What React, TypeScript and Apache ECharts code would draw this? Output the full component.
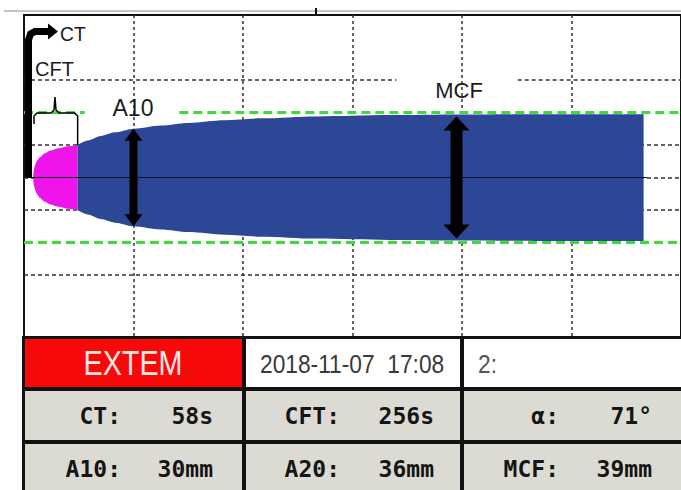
import React, { useEffect, useRef } from "react";
import * as echarts from "echarts";

// ---- curve data (time in s, half amplitude in mm) ----
const pinkTimes = [50, 55, 62, 72, 88, 112, 145, 190, 240, 294];
const pinkAmp = [0, 2.6, 4.0, 5.2, 6.3, 7.4, 8.3, 9.0, 9.6, 10.0];
const blueTimes = [294, 350, 420, 500, 600, 750, 900, 1100, 1300, 1600, 2000, 2400, 2800, 3395];
const blueAmp = [10.0, 11.4, 12.8, 13.9, 15.0, 16.0, 16.8, 17.6, 18.2, 18.8, 19.2, 19.4, 19.5, 19.5];
const baselineEnd = 3415;
const a10Time = 600;
const a10Amp = 15;
const mcfTime = 2370;
const mcfAmp = 18.8;
const refAmp = 20;
const xMax = 3600;
const xInterval = 600;
const yMin = -50;
const yMax = 50;
const yInterval = 10;

// ---- table texts ----
const testName = "EXTEM";
const testDate = "2018-11-07  17:08";
const channel = "2:";
const row1Labels = ["CT:", "CFT:", "α:"];
const row1Values = ["58s", "256s", "71°"];
const row2Labels = ["A10:", "A20:", "MCF:"];
const row2Values = ["30mm", "36mm", "39mm"];

const PINK = "#ee14ea";
const BLUE = "#2d4797";
const GREEN = "#3edc36";
const GRID = "#333333";
const CELL_GRAY = "#dcdbd3";
const RED = "#f80909";

const SANS = '"Liberation Sans", Arial, sans-serif';
const MONO = '"DejaVu Sans Mono", "Liberation Mono", monospace';

export default function App() {
  const ref = useRef<HTMLDivElement>(null);
  useEffect(() => {
    if (!ref.current) return;
    const chart = echarts.init(ref.current, undefined, { renderer: "svg" });
    const upper = (ts: number[], as: number[]) => ts.map((t, i) => [t, as[i]]);
    const lower = (ts: number[], as: number[]) => ts.map((t, i) => [t, -as[i]]);
    const areaSeries = (data: number[][], color: string) => ({
      type: "line",
      data,
      symbol: "none",
      smooth: 0.3,
      smoothMonotone: "x",
      lineStyle: { width: 0, color },
      itemStyle: { color },
      areaStyle: { color, opacity: 1, origin: 0 },
      silent: true,
      z: 2,
    });
    const xColors = ["transparent", GRID, GRID, GRID, GRID, GRID, "transparent"];
    const yColors = [
      "transparent", "transparent", GRID, "transparent", GRID, GRID, GRID,
      "transparent", "transparent", "transparent", "transparent",
    ];
    chart.setOption({
      animation: false,
      grid: {
        left: 24, top: 15, width: 660, height: 325,
        show: true, borderColor: "#111", borderWidth: 2, backgroundColor: "#fff",
      },
      xAxis: {
        type: "value", min: 0, max: xMax, interval: xInterval,
        axisLine: { show: false }, axisTick: { show: false }, axisLabel: { show: false },
        splitLine: { show: true, lineStyle: { color: xColors, width: 1.5, type: [3, 3] } },
      },
      yAxis: {
        type: "value", min: yMin, max: yMax, interval: yInterval,
        axisLine: { show: false }, axisTick: { show: false }, axisLabel: { show: false },
        splitLine: { show: true, lineStyle: { color: yColors, width: 1.5, type: [4, 3] } },
      },
      series: [
        areaSeries(upper(pinkTimes, pinkAmp), PINK),
        areaSeries(lower(pinkTimes, pinkAmp), PINK),
        areaSeries(upper(blueTimes, blueAmp), BLUE),
        areaSeries(lower(blueTimes, blueAmp), BLUE),
        {
          type: "line",
          data: [[0, 0], [baselineEnd, 0]],
          symbol: "none",
          lineStyle: { color: "#0d1020", width: 1 },
          silent: true,
          z: 4,
          markLine: {
            silent: true,
            symbol: "none",
            label: { show: false },
            lineStyle: { color: GREEN, width: 3, type: [9, 5] },
            data: [
              [{ coord: [0, refAmp] }, { coord: [333, refAmp] }],
              [{ coord: [851, refAmp] }, { coord: [xMax, refAmp] }],
              [{ coord: [0, -refAmp] }, { coord: [xMax, -refAmp] }],
              [{ coord: [0, 30], lineStyle: { color: GRID, width: 1.5, type: [4, 3] } }, { coord: [2040, 30] }],
              [{ coord: [2705, 30], lineStyle: { color: GRID, width: 1.5, type: [4, 3] } }, { coord: [xMax, 30] }],
            ],
          },
        },
      ],
    });

    const px = (t: number, v: number) => chart.convertToPixel({ gridIndex: 0 }, [t, v]) as number[];
    const arrow = (t: number, amp: number, sw: number, hw: number, hl: number) => {
      const [x, yT] = px(t, amp);
      const [, yB] = px(t, -amp);
      const s = sw / 2;
      return [
        [x, yT], [x + hw, yT + hl], [x + s, yT + hl], [x + s, yB - hl], [x + hw, yB - hl],
        [x, yB], [x - hw, yB - hl], [x - s, yB - hl], [x - s, yT + hl], [x - hw, yT + hl],
      ];
    };
    const [cftX] = px(pinkTimes[pinkTimes.length - 1], 0);
    const [, cftY] = px(0, pinkAmp[pinkAmp.length - 1]);

    const txt = (text: string, x: number, y: number, size: number, family: string, fill: string, align = "left", weight = "normal", scaleX = 1) => ({
      type: "text",
      z: 120,
      silent: true,
      x,
      y,
      scaleX,
      style: {
        text, x: 0, y: 0, fill, fontSize: size, fontFamily: family, fontWeight: weight,
        align, verticalAlign: "middle", textAlign: align, textVerticalAlign: "middle",
      },
    });
    const rect = (x: number, y: number, w: number, h: number, fill: string) => ({
      type: "rect", z: 100, silent: true, shape: { x, y, width: w, height: h }, style: { fill },
    });

    const cols = [[25, 217], [246, 214], [464, 217]];
    const rowY = [[339, 48], [391, 49], [444, 46]];
    const labelRight = [121, 340, 559];
    const valueRight = [213, 434, 652];

    const elements: any[] = [
      { type: "line", z: 100, silent: true, shape: { x1: 4, y1: 11, x2: 681, y2: 11 }, style: { stroke: "#c4c4c4", lineWidth: 2 } },
      { type: "line", z: 100, silent: true, shape: { x1: 316, y1: 8, x2: 316, y2: 15 }, style: { stroke: "#111", lineWidth: 2 } },
      // CT arrow
      { type: "polyline", z: 110, silent: true, shape: { points: [[28.5, 178], [28.5, 40], [30.5, 34], [35, 31.5], [50, 31.5]] }, style: { stroke: "#000", lineWidth: 7, fill: null } },
      { type: "polygon", z: 110, silent: true, shape: { points: [[48, 23.5], [58, 31.5], [48, 39.5]] }, style: { fill: "#000" } },
      txt("CT", 60, 34, 21, SANS, "#1a1a1a", "left", "normal", 0.92),
      txt("CFT", 35, 69, 20, SANS, "#1a1a1a"),
      // CFT bracket
      {
        type: "polyline", z: 110, silent: true,
        shape: { points: [[34, 124], [34, 116], [37, 113], [51, 113], [54, 110], [55, 97], [56, 110], [59, 113], [cftX - 3, 113], [cftX, 116], [cftX, cftY]] },
        style: { stroke: "#000", lineWidth: 1.5, fill: null },
      },
      txt("A10", 133, 108, 23, SANS, "#1a1a1a", "center"),
      txt("MCF", 459, 90, 22, SANS, "#1a1a1a", "center"),
      { type: "polygon", z: 110, silent: true, shape: { points: arrow(a10Time, a10Amp, 8, 9, 12) }, style: { fill: "#000" } },
      { type: "polygon", z: 110, silent: true, shape: { points: arrow(mcfTime, mcfAmp, 12, 13, 14) }, style: { fill: "#000" } },
      // table
      rect(22, 336, 681 - 22, 490 - 336, "#111"),
      rect(cols[0][0], rowY[0][0], cols[0][1], rowY[0][1], RED),
      rect(cols[1][0], rowY[0][0], cols[1][1], rowY[0][1], "#fff"),
      rect(cols[2][0], rowY[0][0], cols[2][1], rowY[0][1], "#fff"),
      txt(testName, 133, 363, 35, SANS, "#fbe7e3", "center", "normal", 0.82),
      txt(testDate, 260, 364, 25, SANS, "#3a3a3a", "left", "normal", 0.91),
      txt(channel, 478, 364, 25, SANS, "#555", "left", "normal", 0.91),
    ];
    [1, 2].forEach((r) => {
      cols.forEach(([x, w]) => elements.push(rect(x, rowY[r][0], w, rowY[r][1], CELL_GRAY)));
    });
    const rowsText = [[row1Labels, row1Values, 416], [row2Labels, row2Values, 469]] as any[];
    rowsText.forEach(([labels, values, y]) => {
      for (let i = 0; i < 3; i++) {
        elements.push(txt(labels[i], labelRight[i], y, 23, MONO, "#151515", "right", "bold"));
        elements.push(txt(values[i], valueRight[i], y, 23, MONO, "#151515", "right", "bold"));
      }
    });
    chart.setOption({ graphic: { elements } });
    return () => chart.dispose();
  }, []);
  return <div ref={ref} style={{ position: "absolute", left: 0, top: 0, width: 681, height: 490, background: "#fff" }} />;
}
